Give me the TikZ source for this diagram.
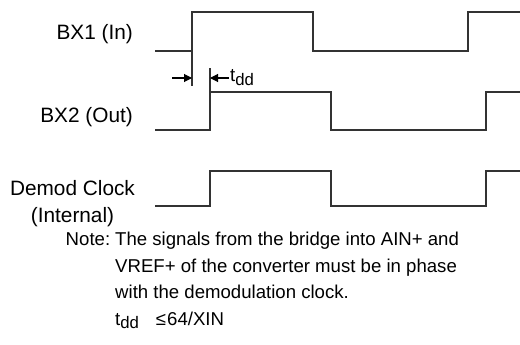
\documentclass[tikz,border=0pt]{standalone}
\usepackage{fontspec}
\setmainfont{Liberation Sans}
\usetikzlibrary{arrows.meta}
\begin{document}
\begin{tikzpicture}[x=1pt,y=-1pt,
  wave/.style={line width=1.1pt,draw=black!80,line join=miter},
  lbl/.style={inner sep=0pt,font=\fontsize{20.8}{26.5}\selectfont},
  notefont/.style={inner sep=0pt,font=\fontsize{18.6}{26.5}\selectfont},
  dim/.style={line width=1.1pt,draw=black,-{Triangle[length=8pt,width=8pt]}},
  tick/.style={line width=1.1pt,draw=black!80}]
\useasboundingbox (0,0) rectangle (520,345);
% waveforms
\draw[wave] (155,51) -- (192,51) -- (192,12) -- (313,12) -- (313,51) -- (468,51) -- (468,12) -- (520,12);
\draw[wave] (155,130) -- (210,130) -- (210,92) -- (331,92) -- (331,130) -- (486,130) -- (486,92) -- (520,92);
\draw[wave] (155,206) -- (210,206) -- (210,171) -- (331,171) -- (331,206) -- (486,206) -- (486,171) -- (520,171);
% ticks
\coordinate (t1a) at (192,51); \coordinate (t1b) at (192,86);
\coordinate (t2a) at (210,92); \coordinate (t2b) at (210,68);
\draw[tick] (t1a) -- (t1b);
\draw[tick] (t2a) -- (t2b);
\coordinate (a1s) at (172,78); \coordinate (a1e) at (192,78);
\coordinate (a2s) at (229,78); \coordinate (a2e) at (210,78);
\draw[dim] (a1s) -- (a1e);
\draw[dim] (a2s) -- (a2e);
\node[notefont,anchor=base west] (tdd) at (230,82) {t\raisebox{-0.4ex}{\scalebox{0.9}{dd}}};
% labels
\node[lbl,anchor=base east] (bx1) at (133,40) {BX1 (In)};
\node[lbl,anchor=base east] (bx2) at (133,122) {BX2 (Out)};
\node[lbl,align=center] (dem) at (72.5,203.5) {Demod Clock\\(Internal)};
% note (base anchor = last line)
\node[notefont,anchor=base west,align=left] (note) at (115,325)
 {\llap{Note:\hspace{5pt}}The signals from the bridge into AIN+ and\\
  VREF+ of the converter must be in phase\\
  with the demodulation clock.\\
  t\raisebox{-0.4ex}{\scalebox{0.9}{dd}}\hspace{17pt}≤\hspace{1pt}64/XIN};
\end{tikzpicture}
\end{document}
